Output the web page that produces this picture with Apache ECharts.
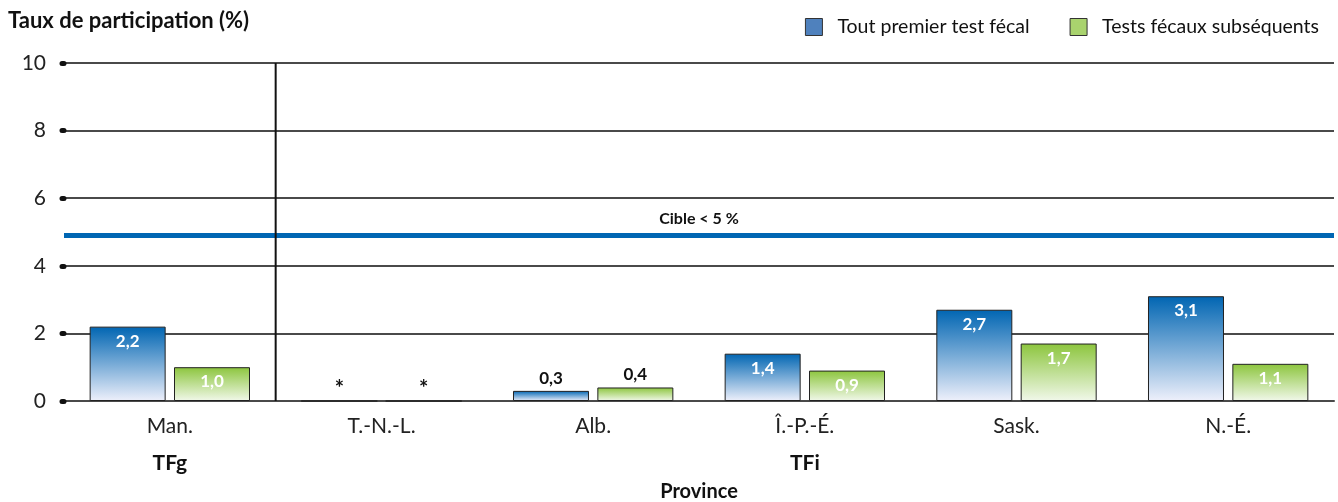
<!DOCTYPE html>
<html>
<head>
<meta charset="utf-8">
<script src="https://cdn.jsdelivr.net/npm/echarts@6/dist/echarts.min.js"></script>
<style>
  html, body { margin: 0; padding: 0; background: #fff; }
  #chart { width: 1338px; height: 502px; }
</style>
</head>
<body>
<div id="chart"></div>
<script>
// Provinces (categories) and groups of test type
const provinces = ['Man.', 'T.-N.-L.', 'Alb.', 'Î.-P.-É.', 'Sask.', 'N.-É.'];
// Participation rate (%); null = suppressed value shown as "*"
const firstTest = [2.2, null, 0.3, 1.4, 2.7, 3.1];
const laterTests = [1.0, null, 0.4, 0.9, 1.7, 1.1];
const seriesNames = ['Tout premier test fécal', 'Tests fécaux subséquents'];
const yTicks = [0, 2, 4, 6, 8, 10];
const targetValue = 4.9;
const targetLabel = 'Cible < 5 %';

const FONT = 'Lato, "Open Sans", sans-serif';

function fmt(v) { return v.toFixed(1).replace('.', ','); }

function buildData(values) {
  return values.map(v => {
    if (v === null) {
      return { value: 0, label: { position: 'top', distance: 1, color: '#111', fontSize: 22, formatter: '*' } };
    }
    if (v < 0.5) {
      return { value: v, label: { position: 'top', distance: 4, color: '#111' } };
    }
    return { value: v };
  });
}

const blueGrad = new echarts.graphic.LinearGradient(0, 0, 0, 1, [
  { offset: 0, color: '#0065b2' },
  { offset: 1, color: '#eef0fb' }
]);
const greenGrad = new echarts.graphic.LinearGradient(0, 0, 0, 1, [
  { offset: 0, color: '#8cc53d' },
  { offset: 1, color: '#f1f8ea' }
]);

const labelBase = {
  show: true,
  position: 'insideTop',
  distance: 6,
  color: '#ffffff',
  fontFamily: FONT,
  fontWeight: 'bold',
  fontSize: 17,
  formatter: p => fmt(p.value)
};

const chart = echarts.init(document.getElementById('chart'));
chart.setOption({
  animation: false,
  backgroundColor: '#ffffff',
  textStyle: { fontFamily: FONT },
  grid: { left: 64, right: 4, top: 63, bottom: 101, containLabel: false },
  legend: {
    right: 14,
    top: 12,
    itemWidth: 17,
    itemHeight: 17,
    itemGap: 40,
    icon: 'rect',
    textStyle: { fontFamily: FONT, fontSize: 19.5, color: '#111', padding: [0, 0, 0, 10] },
    data: [
      { name: seriesNames[0], itemStyle: { color: '#4f81bd', borderColor: '#333', borderWidth: 1 } },
      { name: seriesNames[1], itemStyle: { color: '#a9d36e', borderColor: '#333', borderWidth: 1 } }
    ]
  },
  xAxis: {
    type: 'category',
    data: provinces,
    axisLine: { show: true, lineStyle: { color: '#4a4a4a', width: 2 } },
    axisTick: { show: false },
    axisLabel: { fontFamily: FONT, fontSize: 21, color: '#222', margin: 15 }
  },
  yAxis: {
    type: 'value',
    min: 0,
    max: 10,
    interval: 2,
    axisLine: { show: false },
    axisTick: { show: true, length: 2, lineStyle: { color: '#111', width: 5, cap: 'round' } },
    axisLabel: {
      fontFamily: FONT, fontSize: 21, color: '#222', margin: 18,
      formatter: v => (yTicks.includes(v) ? String(v) : '')
    },
    splitLine: { show: true, lineStyle: { color: '#4a4a4a', width: 2 } }
  },
  series: [
    {
      name: seriesNames[0],
      type: 'bar',
      barWidth: 76,
      barGap: '11%',
      data: buildData(firstTest),
      itemStyle: { color: blueGrad, borderColor: '#222', borderWidth: 1 },
      label: labelBase,
      markLine: {
        silent: true,
        symbol: 'none',
        lineStyle: { color: '#0066b3', width: 5, type: 'solid' },
        label: {
          show: true,
          position: 'middle',
          distance: 9,
          formatter: targetLabel,
          color: '#111',
          fontFamily: FONT,
          fontWeight: 'bold',
          fontSize: 16
        },
        data: [{ yAxis: targetValue }]
      }
    },
    {
      name: seriesNames[1],
      type: 'bar',
      barWidth: 76,
      data: buildData(laterTests),
      itemStyle: { color: greenGrad, borderColor: '#222', borderWidth: 1 },
      label: labelBase
    }
  ]
});

// Group divider and group / axis titles placed from the axis scale
const x0 = chart.convertToPixel({ xAxisIndex: 0 }, provinces[0]);
const x1 = chart.convertToPixel({ xAxisIndex: 0 }, provinces[1]);
const band = x1 - x0;
const xDivider = (x0 + x1) / 2;
const yTop = chart.convertToPixel({ yAxisIndex: 0 }, 10);
const yBottom = chart.convertToPixel({ yAxisIndex: 0 }, 0);
const xLast = chart.convertToPixel({ xAxisIndex: 0 }, provinces[provinces.length - 1]);
const xTFi = (xDivider + xLast + band / 2) / 2;
const xCenter = (x0 - band / 2 + xLast + band / 2) / 2;

chart.setOption({
  graphic: [
    {
      type: 'line',
      shape: { x1: xDivider, y1: yTop, x2: xDivider, y2: yBottom },
      style: { stroke: '#111', lineWidth: 2 },
      z: 5
    },
    {
      type: 'text', left: 8, top: 10,
      style: { text: 'Taux de participation (%)', font: 'bold 22px ' + FONT, fill: '#111' }
    },
    {
      type: 'text', x: x0, y: 463,
      style: { text: 'TFg', font: 'bold 21px ' + FONT, fill: '#111', align: 'center', verticalAlign: 'middle' }
    },
    {
      type: 'text', x: xTFi, y: 463,
      style: { text: 'TFi', font: 'bold 21px ' + FONT, fill: '#111', align: 'center', verticalAlign: 'middle' }
    },
    {
      type: 'text', x: xCenter, y: 492,
      style: { text: 'Province', font: 'bold 20px ' + FONT, fill: '#111', align: 'center', verticalAlign: 'middle' }
    }
  ]
});
</script>
</body>
</html>
